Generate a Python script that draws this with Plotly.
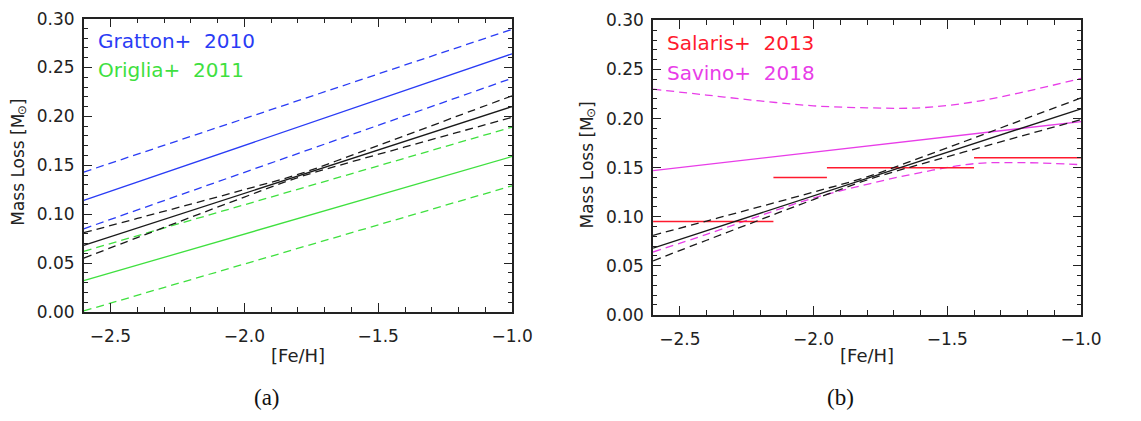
import plotly.graph_objects as go

W, H = 1141, 421

# [Fe/H] sample points used for every fitted relation
feh = [-2.6, -2.4, -2.2, -2.0, -1.8, -1.6, -1.4, -1.2, -1.0]

# This work: best-fit mass-loss relation and its confidence band
fit_mid = [0.068, 0.0858, 0.1035, 0.1213, 0.139, 0.1568, 0.1745, 0.1923, 0.210]
fit_hi = [0.081, 0.0956, 0.1102, 0.1251, 0.1406, 0.1601, 0.1803, 0.2007, 0.221]
fit_lo = [0.055, 0.0760, 0.0968, 0.1175, 0.1374, 0.1535, 0.1687, 0.1839, 0.199]

# Gratton+ 2010 relation (end points) and its upper / lower envelope
gratton_feh = [-2.6, -1.0]
gratton_mid = [0.114, 0.264]
gratton_hi = [0.143, 0.289]
gratton_lo = [0.085, 0.239]

# Origlia+ 2011 relation
origlia_feh = [-2.6, -1.0]
origlia_mid = [0.032, 0.159]
origlia_hi = [0.062, 0.189]
origlia_lo = [0.001, 0.129]

# Salaris+ 2013: constant mass loss in [Fe/H] bins
salaris_feh_lo = [-2.6, -2.15, -1.95, -1.40]
salaris_feh_hi = [-2.15, -1.95, -1.40, -1.0]
salaris_mass = [0.095, 0.140, 0.150, 0.160]

# Savino+ 2018 relation and its confidence band
savino_feh = [-2.6, -1.0]
savino_mid = [0.147, 0.197]
savino_hi = [0.230, 0.224, 0.218, 0.213, 0.211, 0.211, 0.217, 0.228, 0.241]
savino_lo = [0.064, 0.082, 0.101, 0.119, 0.133, 0.145, 0.154, 0.155, 0.153]

x_ticks = [-2.5, -2.0, -1.5, -1.0]
y_ticks = [0.00, 0.05, 0.10, 0.15, 0.20, 0.25, 0.30]

BLACK = "#1a1a1a"
BLUE = "#2a3cf5"
GREEN = "#3fe03f"
RED = "#ff1a2e"
MAGENTA = "#e83de8"
DASH = "8px,5px"
LW = 1.3

fig = go.Figure()


def add(x, y, color, dash="solid", xa="x", ya="y", shape="linear", width=LW):
    fig.add_trace(go.Scatter(
        x=x, y=y, mode="lines", xaxis=xa, yaxis=ya, showlegend=False,
        hoverinfo="skip",
        line=dict(color=color, width=width, dash=dash, shape=shape)))


# ---- panel (a)
add(gratton_feh, gratton_hi, BLUE, DASH)
add(gratton_feh, gratton_mid, BLUE)
add(gratton_feh, gratton_lo, BLUE, DASH)
add(origlia_feh, origlia_hi, GREEN, DASH)
add(origlia_feh, origlia_mid, GREEN)
add(origlia_feh, origlia_lo, GREEN, DASH)
add(feh, fit_hi, BLACK, DASH, shape="spline")
add(feh, fit_mid, BLACK)
add(feh, fit_lo, BLACK, DASH, shape="spline")

# ---- panel (b)
add(savino_feh, savino_mid, MAGENTA, xa="x2", ya="y2")
add(feh, savino_hi, MAGENTA, DASH, "x2", "y2", "spline")
add(feh, savino_lo, MAGENTA, DASH, "x2", "y2", "spline")
for x0, x1, m in zip(salaris_feh_lo, salaris_feh_hi, salaris_mass):
    add([x0, x1], [m, m], RED, xa="x2", ya="y2", width=1.5)
add(feh, fit_hi, BLACK, DASH, "x2", "y2", "spline")
add(feh, fit_mid, BLACK, xa="x2", ya="y2")
add(feh, fit_lo, BLACK, DASH, "x2", "y2", "spline")

TICKFONT = dict(family="DejaVu Sans", size=17, color="#222222")


def xaxis(domain, anchor):
    return dict(
        domain=domain, anchor=anchor, range=[-2.6, -1.0],
        tickvals=x_ticks, tickformat=".1f", ticks="inside", ticklen=9,
        tickwidth=1.1, tickcolor="#222222", mirror="allticks",
        showline=True, linecolor="#222222", linewidth=1.6,
        showgrid=False, zeroline=False, tickfont=TICKFONT,
        ticklabelstandoff=8,
        minor=dict(dtick=0.1, ticks="inside", ticklen=5, tickwidth=1.1,
                   tickcolor="#222222", showgrid=False))


def yaxis(domain, anchor):
    return dict(
        domain=domain, anchor=anchor, range=[0.0, 0.30],
        tickvals=y_ticks, tickformat=".2f", ticks="inside", ticklen=8,
        tickwidth=1.1, tickcolor="#222222", mirror="allticks",
        showline=True, linecolor="#222222", linewidth=1.6,
        showgrid=False, zeroline=False, tickfont=TICKFONT,
        ticklabelstandoff=4,
        minor=dict(dtick=0.01, ticks="inside", ticklen=4, tickwidth=1.1,
                   tickcolor="#222222", showgrid=False))


def px(x):
    return x / W


def py(y):
    return 1 - y / H


fig.update_layout(
    width=W, height=H, margin=dict(l=0, r=0, t=0, b=0),
    paper_bgcolor="white", plot_bgcolor="white", showlegend=False,
    xaxis=xaxis([px(85.3), px(521.7)], "y"),
    yaxis=yaxis([py(317), py(9)], "x"),
    xaxis2=xaxis([px(665.3), px(1101.3)], "y2"),
    yaxis2=yaxis([py(320), py(11)], "x2"),
)

ann = []


def text(x, y, s, color="#222222", size=20, family="DejaVu Sans",
         xanchor="left", yanchor="middle", angle=0):
    ann.append(dict(x=px(x), y=py(y), xref="paper", yref="paper", text=s,
                    showarrow=False, xanchor=xanchor, yanchor=yanchor,
                    textangle=angle,
                    font=dict(family=family, size=size, color=color)))


text(98, 33, "Gratton+  2010", BLUE)
text(98, 63, "Origlia+  2011", GREEN)
text(677, 35, "Salaris+  2013", RED)
text(677, 66, "Savino+  2018", MAGENTA)

for cx in (303.5, 883.3):
    text(cx, 363, "[Fe/H]", size=18, xanchor="center")

# rotated y-axis titles "Mass Loss [M⊙]", with the solar symbol set as a
# smaller subscript next to the M
for tx, ty in [(18, 163), (598, 165.5)]:
    base = ty + 66                        # bottom end of the title
    text(tx, base, "Mass Loss [M", size=17, xanchor="center",
         yanchor="bottom", angle=-90)
    text(tx + 4, base - 116, "⊙", size=12, xanchor="center",
         yanchor="bottom", angle=-90)
    text(tx, base - 127, "]", size=17, xanchor="center",
         yanchor="bottom", angle=-90)

text(272, 407, "(a)", size=23, family="Liberation Serif", color="#111111",
     xanchor="center")
text(856, 407, "(b)", size=23, family="Liberation Serif", color="#111111",
     xanchor="center")

fig.update_layout(annotations=ann)
fig.write_html("out.html")
